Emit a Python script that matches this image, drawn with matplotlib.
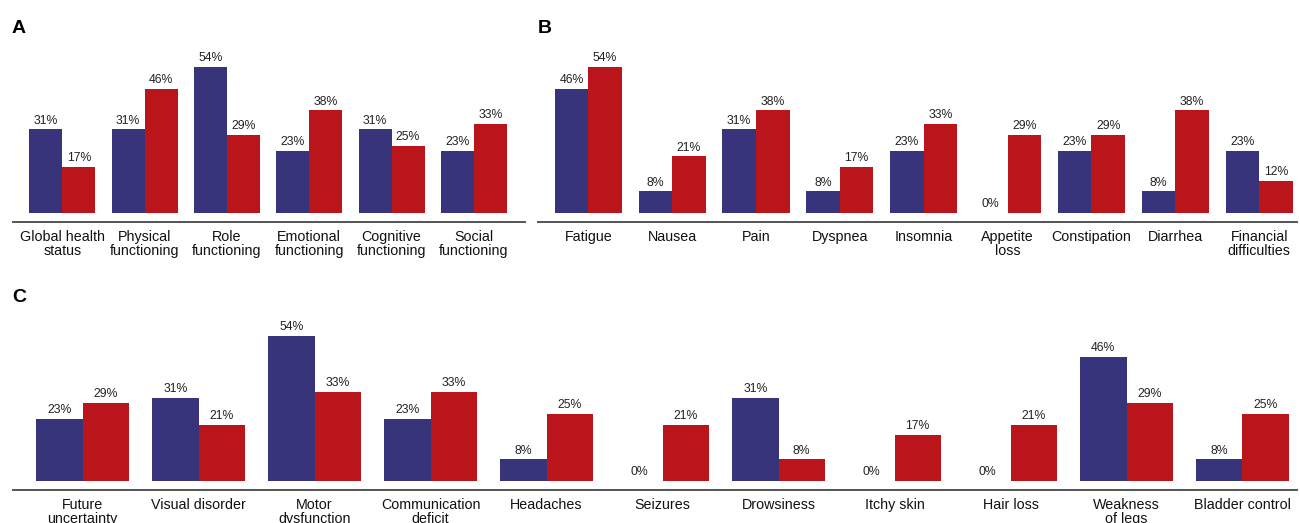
import matplotlib
matplotlib.use('Agg')
import matplotlib.pyplot as plt
import numpy as np

plt.rcParams['font.family'] = ['Liberation Sans', 'DejaVu Sans']

blue = '#37347b'
red = '#b9151a'

# panel A - functioning scales
a_labels = ['Global health\nstatus', 'Physical\nfunctioning', 'Role\nfunctioning',
            'Emotional\nfunctioning', 'Cognitive\nfunctioning', 'Social\nfunctioning']
a_blue = [31, 31, 54, 23, 31, 23]
a_red = [17, 46, 29, 38, 25, 33]

# panel B - symptom scales
b_labels = ['Fatigue', 'Nausea', 'Pain', 'Dyspnea', 'Insomnia', 'Appetite\nloss',
            'Constipation', 'Diarrhea', 'Financial\ndifficulties']
b_blue = [46, 8, 31, 8, 23, 0, 23, 8, 23]
b_red = [54, 21, 38, 17, 33, 29, 29, 38, 12]

# panel C - brain module items
c_labels = ['Future\nuncertainty', 'Visual disorder', 'Motor\ndysfunction',
            'Communication\ndeficit', 'Headaches', 'Seizures', 'Drowsiness',
            'Itchy skin', 'Hair loss', 'Weakness\nof legs', 'Bladder control']
c_blue = [23, 31, 54, 23, 8, 0, 31, 0, 0, 46, 8]
c_red = [29, 21, 33, 33, 25, 21, 8, 17, 21, 29, 25]


def panel(ax, labels, v1, v2, xlim, ylim):
    x = np.arange(len(labels))
    w = 0.4
    b1 = ax.bar(x - w / 2, v1, w, color=blue, edgecolor='none')
    b2 = ax.bar(x + w / 2, v2, w, color=red, edgecolor='none')
    for bars in (b1, b2):
        ax.bar_label(bars, labels=[f'{v}%' for v in bars.datavalues],
                     padding=2, fontsize=8.8, color='#222222')
    ax.set_xticks(x)
    ax.set_xticklabels(labels, fontsize=10.3, linespacing=1.0, color='#111111')
    ax.tick_params(axis='x', length=0, pad=6)
    ax.set_yticks([])
    ax.set_xlim(*xlim)
    ax.set_ylim(*ylim)
    for s in ('top', 'right', 'left'):
        ax.spines[s].set_visible(False)
    ax.spines['bottom'].set_color('#555555')
    ax.spines['bottom'].set_linewidth(1.4)
    ax.patch.set_alpha(0)


fig = plt.figure(figsize=(13, 5.23), dpi=100)

ax_a = fig.add_axes([0.01, 0.5755, 0.3938, 0.3193])
panel(ax_a, a_labels, a_blue, a_red, (-0.6, 5.62), (-3.3, 58.5))
ax_b = fig.add_axes([0.4138, 0.5755, 0.5838, 0.3193])
panel(ax_b, b_labels, b_blue, b_red, (-0.6, 8.45), (-3.3, 58.5))
ax_c = fig.add_axes([0.01, 0.0631, 0.9877, 0.325])
panel(ax_c, c_labels, c_blue, c_red, (-0.6, 10.47), (-3.35, 59.85))

fig.text(12 / 1300, 1 - 33 / 523, 'A', fontsize=14, fontweight='bold')
fig.text(538 / 1300, 1 - 33 / 523, 'B', fontsize=14, fontweight='bold')
fig.text(12 / 1300, 1 - 302 / 523, 'C', fontsize=14, fontweight='bold')

fig.savefig('out.png', dpi=100, facecolor='white')
